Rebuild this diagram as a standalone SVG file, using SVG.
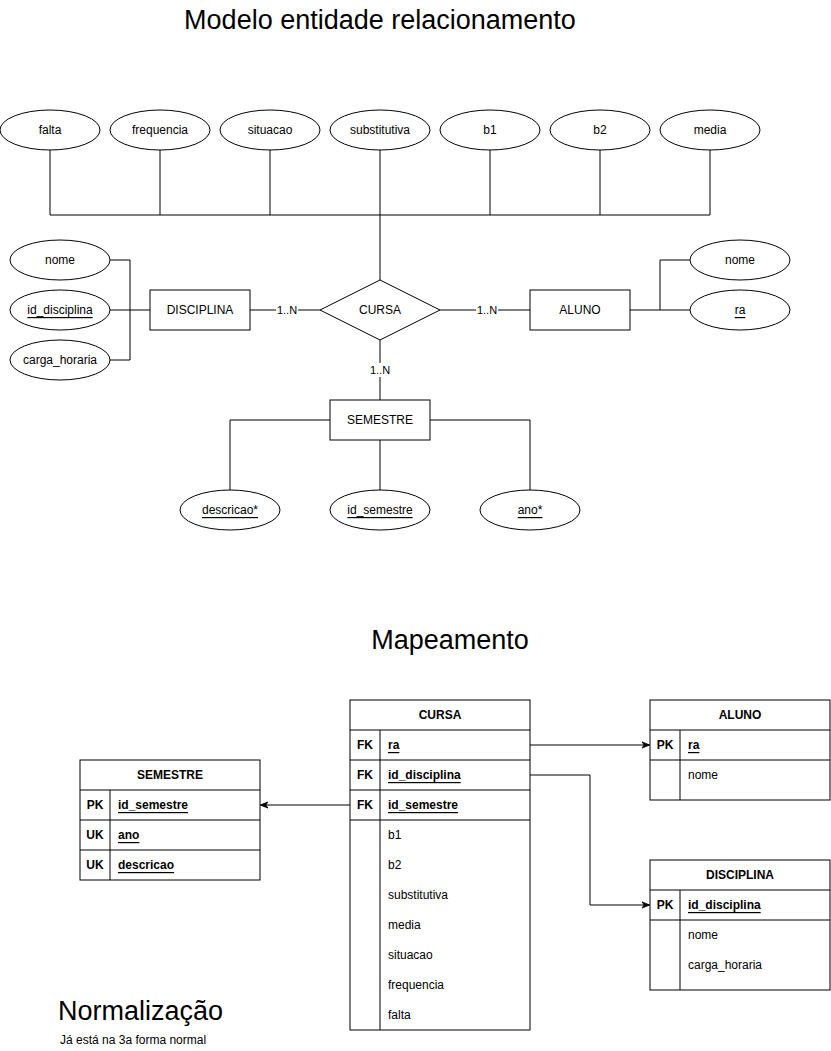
<svg xmlns="http://www.w3.org/2000/svg" width="831" height="1051" viewBox="0 0 831 1051">
<defs>
<style>
.s{fill:#fff;stroke:#000;stroke-width:1}
.l{fill:none;stroke:#000;stroke-width:1}
text{font-family:"Liberation Sans",Arial,sans-serif;font-size:12px;fill:#000}
.c{text-anchor:middle;dominant-baseline:central}
.m{dominant-baseline:central}
.b{font-weight:bold}
.u{text-decoration:underline}
.lbl{font-size:11px}
.t{font-size:27px;text-anchor:middle;dominant-baseline:central}
</style>
<marker id="arr" viewBox="0 0 10 10" refX="9" refY="5" markerWidth="8" markerHeight="8" orient="auto" markerUnits="userSpaceOnUse">
<path d="M0,1 L10,5 L0,9 L3,5 Z" fill="#000" stroke="#000" stroke-width="1"/>
</marker>
</defs>
<rect width="831" height="1051" fill="#fff"/>

<text class="t" x="380" y="20">Modelo entidade relacionamento</text>
<text class="t" x="450" y="640">Mapeamento</text>
<text x="58" y="1020" style="font-size:27px">Normalização</text>
<text x="60" y="1044" style="font-size:12px">Já está na 3a forma normal</text>

<g id="connectors">
<path class="l" d="M50,150V215M160,150V215M270,150V215M380,150V280M490,150V215M600,150V215M710,150V215M50,215H710"/>
<path class="l" d="M110,260H130V360H110M110,310H150"/>
<path class="l" d="M250,310H276M298,310H320"/>
<text class="c lbl" x="287" y="310">1..N</text>
<path class="l" d="M440,310H476M498,310H530"/>
<text class="c lbl" x="487" y="310">1..N</text>
<path class="l" d="M630,310H690M660,310V260H690"/>
<path class="l" d="M380,340V363M380,377V400"/>
<text class="c lbl" x="380" y="370">1..N</text>
<path class="l" d="M330,420H230V490M380,440V490M430,420H530V490"/>
<path class="l" d="M530,745H649" marker-end="url(#arr)"/>
<path class="l" d="M530,775H590V905H649" marker-end="url(#arr)"/>
<path class="l" d="M350,805H261" marker-end="url(#arr)"/>
</g>

<g id="attr-falta"><ellipse class="s" cx="50" cy="130" rx="50" ry="20"/><text class="c" x="50" y="130">falta</text></g>
<g id="attr-frequencia"><ellipse class="s" cx="160" cy="130" rx="50" ry="20"/><text class="c" x="160" y="130">frequencia</text></g>
<g id="attr-situacao"><ellipse class="s" cx="270" cy="130" rx="50" ry="20"/><text class="c" x="270" y="130">situacao</text></g>
<g id="attr-substitutiva"><ellipse class="s" cx="380" cy="130" rx="50" ry="20"/><text class="c" x="380" y="130">substitutiva</text></g>
<g id="attr-b1"><ellipse class="s" cx="490" cy="130" rx="50" ry="20"/><text class="c" x="490" y="130">b1</text></g>
<g id="attr-b2"><ellipse class="s" cx="600" cy="130" rx="50" ry="20"/><text class="c" x="600" y="130">b2</text></g>
<g id="attr-media"><ellipse class="s" cx="710" cy="130" rx="50" ry="20"/><text class="c" x="710" y="130">media</text></g>

<g id="attr-disc-nome"><ellipse class="s" cx="60" cy="260" rx="50" ry="20"/><text class="c" x="60" y="260">nome</text></g>
<g id="attr-disc-id"><ellipse class="s" cx="60" cy="310" rx="50" ry="20"/><text class="c u" x="60" y="310">id_disciplina</text></g>
<g id="attr-disc-carga"><ellipse class="s" cx="60" cy="360" rx="50" ry="20"/><text class="c" x="60" y="360">carga_horaria</text></g>

<g id="ent-disciplina"><rect class="s" x="150" y="290" width="100" height="40"/><text class="c" x="200" y="310">DISCIPLINA</text></g>
<g id="rel-cursa"><path class="s" d="M320,310L380,280L440,310L380,340Z"/><text class="c" x="380" y="310">CURSA</text></g>
<g id="ent-aluno"><rect class="s" x="530" y="290" width="100" height="40"/><text class="c" x="580" y="310">ALUNO</text></g>

<g id="attr-aluno-nome"><ellipse class="s" cx="740" cy="260" rx="50" ry="20"/><text class="c" x="740" y="260">nome</text></g>
<g id="attr-aluno-ra"><ellipse class="s" cx="740" cy="310" rx="50" ry="20"/><text class="c u" x="740" y="310">ra</text></g>

<g id="ent-semestre"><rect class="s" x="330" y="400" width="100" height="40"/><text class="c" x="380" y="420">SEMESTRE</text></g>
<g id="attr-sem-desc"><ellipse class="s" cx="230" cy="510" rx="50" ry="20"/><text class="c u" x="230" y="510">descricao*</text></g>
<g id="attr-sem-id"><ellipse class="s" cx="380" cy="510" rx="50" ry="20"/><text class="c u" x="380" y="510">id_semestre</text></g>
<g id="attr-sem-ano"><ellipse class="s" cx="530" cy="510" rx="50" ry="20"/><text class="c u" x="530" y="510">ano*</text></g>

<g id="tbl-cursa">
<rect class="s" x="350" y="700" width="180" height="330"/>
<path class="l" d="M350,730H530M350,760H530M350,790H530M350,820H530M380,730V1030"/>
<text class="c b" x="440" y="715">CURSA</text>
<text class="c b" x="365" y="745">FK</text><text class="m b u" x="388" y="745">ra</text>
<text class="c b" x="365" y="775">FK</text><text class="m b u" x="388" y="775">id_disciplina</text>
<text class="c b" x="365" y="805">FK</text><text class="m b u" x="388" y="805">id_semestre</text>
<text class="m" x="388" y="835">b1</text>
<text class="m" x="388" y="865">b2</text>
<text class="m" x="388" y="895">substitutiva</text>
<text class="m" x="388" y="925">media</text>
<text class="m" x="388" y="955">situacao</text>
<text class="m" x="388" y="985">frequencia</text>
<text class="m" x="388" y="1015">falta</text>
</g>

<g id="tbl-aluno">
<rect class="s" x="650" y="700" width="180" height="100"/>
<path class="l" d="M650,730H830M650,760H830M680,730V800"/>
<text class="c b" x="740" y="715">ALUNO</text>
<text class="c b" x="665" y="745">PK</text><text class="m b u" x="688" y="745">ra</text>
<text class="m" x="688" y="775">nome</text>
</g>

<g id="tbl-disciplina">
<rect class="s" x="650" y="860" width="180" height="130"/>
<path class="l" d="M650,890H830M650,920H830M680,890V990"/>
<text class="c b" x="740" y="875">DISCIPLINA</text>
<text class="c b" x="665" y="905">PK</text><text class="m b u" x="688" y="905">id_disciplina</text>
<text class="m" x="688" y="935">nome</text>
<text class="m" x="688" y="965">carga_horaria</text>
</g>

<g id="tbl-semestre">
<rect class="s" x="80" y="760" width="180" height="120"/>
<path class="l" d="M80,790H260M80,820H260M80,850H260M110,790V880"/>
<text class="c b" x="170" y="775">SEMESTRE</text>
<text class="c b" x="95" y="805">PK</text><text class="m b u" x="118" y="805">id_semestre</text>
<text class="c b" x="95" y="835">UK</text><text class="m b u" x="118" y="835">ano</text>
<text class="c b" x="95" y="865">UK</text><text class="m b u" x="118" y="865">descricao</text>
</g>
</svg>
